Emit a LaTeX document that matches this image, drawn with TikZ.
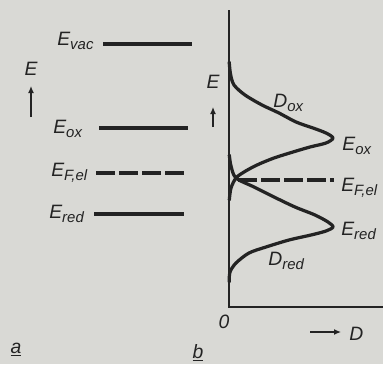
\documentclass[tikz,border=0pt]{standalone}
\usepackage{fontspec}
\setmainfont{Liberation Sans}
\usepackage{tikz}
\usetikzlibrary{arrows.meta}
\definecolor{paper}{HTML}{D9D9D5}
\definecolor{ink}{HTML}{232323}
\newcommand{\lvlsub}[1]{\raisebox{-0.45ex}{\fontsize{8.5}{10}\selectfont #1}}
\tikzset{
  lbl/.style={font=\fontsize{11}{13}\selectfont\itshape, text=ink, inner sep=0pt},
  lvlline/.style={line width=0.75mm, ink},
  fermiline/.style={lvlline, dash pattern=on 3.8mm off 0.8mm},
  dosline/.style={line width=0.65mm, ink, line join=round, line cap=round},
  axisline/.style={line width=0.35mm, ink},
  earrow/.style={-{Latex[length=1.4mm, width=1.2mm]}, line width=0.25mm, ink}
}

\begin{document}
\begin{tikzpicture}[x=0.2mm, y=-0.2mm]
  \path[use as bounding box, fill=paper] (0,0) rectangle (383,364);

  % a: energy levels
  \node[lbl, anchor=base] (ea) at (31,75) {E};
  \draw[earrow] (31,117) -- (31,86);
  \node[lbl, anchor=base west] (evac) at (57,45) {E\lvlsub{vac}};
  \node[lbl, anchor=base west] (eoxa) at (53,133) {E\lvlsub{ox}};
  \node[lbl, anchor=base west] (efa) at (51,176) {E\lvlsub{F,el}};
  \node[lbl, anchor=base west] (ereda) at (49,218) {E\lvlsub{red}};
  \draw[lvlline] (103,44) -- (192,44);
  \draw[lvlline] (99,128) -- (188,128);
  \draw[fermiline] (96,173) -- (187,173);
  \draw[lvlline] (94,214) -- (184,214);
  \node[lbl, anchor=base] (pa) at (16,353) {\underline{a}};

  % b: distribution of states
  \draw[axisline] (229,10) -- (229,307) -- (383,307);
  \node[lbl, anchor=base] (eb) at (213,88) {E};
  \draw[earrow] (213,127) -- (213,107);
  \draw[dosline] plot[smooth, tension=0.5] coordinates {
    (229.2,62) (230.5,74) (234,85) (245,95) (262,105) (279,113) (296,122)
    (313,128) (326,133) (333,138) (326,143) (310,147) (293,152) (274,158)
    (257,165) (244,172) (236,178) (231,188) (229.3,200)};
  \draw[dosline] plot[smooth, tension=0.5] coordinates {
    (229.3,155) (231,166) (236,178) (254,187) (274,197) (295,207) (315,215)
    (328,222) (333,227) (326,231) (311,235) (289,240) (266,247) (249,253)
    (236,263) (230,272) (229.2,282)};
  \draw[fermiline] (238,180) -- (334,180);
  \node[lbl, anchor=base west] (dox) at (273,107) {D\lvlsub{ox}};
  \node[lbl, anchor=base west] (eoxb) at (342,150) {E\lvlsub{ox}};
  \node[lbl, anchor=base west] (efb) at (341,191) {E\lvlsub{F,el}};
  \node[lbl, anchor=base west] (eredb) at (341,235) {E\lvlsub{red}};
  \node[lbl, anchor=base west] (dred) at (268,265) {D\lvlsub{red}};
  \node[lbl, anchor=base] (zero) at (224,328) {0};
  \draw[earrow] (310,332) -- (341,332);
  \node[lbl, anchor=base west] (dlab) at (349,340) {D};
  \node[lbl, anchor=base] (pb) at (198,358) {\underline{b}};
\end{tikzpicture}
\end{document}
